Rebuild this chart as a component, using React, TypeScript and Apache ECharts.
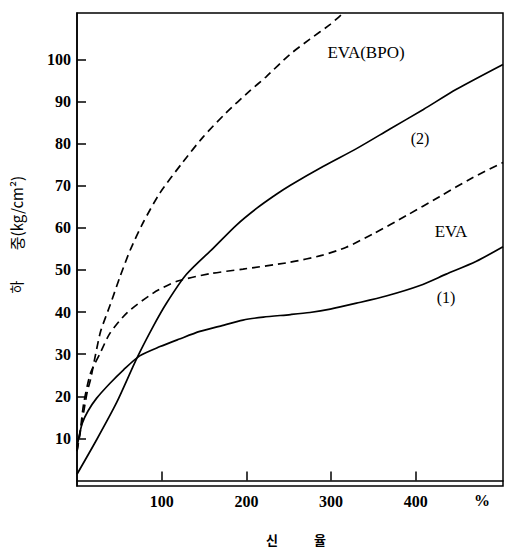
import React, { useEffect, useRef } from "react";
import * as echarts from "echarts";

// elongation (%) , load (kg/cm²)
const curve1: [number, number][] = [
  [0, 8], [2, 10], [6, 13.5], [13, 16.5], [23, 19.5], [39, 23.1], [55, 26.3], [74, 29.6],
  [98, 31.8], [121, 33.6], [145, 35.4], [168, 36.6], [196, 38.1], [220, 38.8], [252, 39.4],
  [275, 39.9], [299, 40.7], [330, 42.1], [365, 43.8], [405, 46.3], [436, 49.0], [471, 52], [503, 55.5],
];
const curve2: [number, number][] = [
  [0, 1.5], [23.5, 9.8], [47, 18.6], [70.6, 29.0], [90, 36.6], [106, 42.2], [129, 48.9],
  [161, 55.2], [188, 60.6], [212, 64.6], [235, 67.9], [252, 70.1], [291, 74.6], [330, 78.8],
  [369, 83.4], [409, 88.1], [448, 92.9], [503, 98.8],
];
const curveEVA: [number, number][] = [
  [0, 7], [4, 12], [8, 18.4], [16, 25.5], [27.5, 30.3], [39, 35], [59, 39.8], [90, 44.5],
  [118, 47.3], [157, 49.1], [196, 50.2], [251, 51.8], [290, 53.5], [318, 55.4], [350, 58.6],
  [389, 62.9], [428, 67.4], [467, 71.9], [503, 75.5],
];
const curveBPO: [number, number][] = [
  [0, 7], [6, 14], [12, 21], [16, 24], [22, 30], [28, 35.5], [39, 41.6], [51, 48.5], [63, 54.8],
  [78, 61.2], [98, 68.3], [125, 75.6], [149, 81.6], [176, 87.3], [204, 92.5], [223, 95.8],
  [251, 101.1], [275, 104.8], [299, 108.3], [320, 112],
];
const xTicks = [100, 200, 300, 400];
const yTicks = [10, 20, 30, 40, 50, 60, 70, 80, 90, 100];

const SERIF = "'Liberation Serif', 'DejaVu Serif', serif";
const KR = "'Noto Sans CJK KR', sans-serif";

export default function App() {
  const ref = useRef<HTMLDivElement>(null);
  useEffect(() => {
    const chart = echarts.init(ref.current!, undefined, { renderer: "svg" });
    const line = (data: [number, number][], dashed: boolean) => ({
      type: "line",
      data,
      showSymbol: false,
      smooth: 0.25,
      clip: true,
      lineStyle: { color: "#000", width: 1.7, type: dashed ? [8, 5] : "solid" },
    });
    const txt = (text: string, x: number, y: number, size = 17, extra: any = {}) => ({
      type: "text",
      x,
      y,
      style: {
        text,
        fill: "#000",
        font: `${size}px ${SERIF}`,
        textAlign: "center",
        textVerticalAlign: "middle",
        ...extra,
      },
    });
    chart.setOption({
      animation: false,
      backgroundColor: "#fff",
      grid: {
        left: 77, top: 13, right: 2, bottom: 65,
        show: true, borderColor: "#000", borderWidth: 1.5,
      },
      xAxis: {
        type: "value", min: 0, max: 503,
        axisLine: { lineStyle: { color: "#000", width: 1.5 } },
        axisTick: { show: true, inside: true, length: 9, lineStyle: { color: "#000", width: 1.5 }, customValues: xTicks },
        axisLabel: { customValues: xTicks, color: "#000", fontFamily: SERIF, fontSize: 16, fontWeight: "bold", margin: 7 },
        splitLine: { show: false },
      },
      yAxis: {
        type: "value", min: -1.3, max: 111,
        axisLine: { lineStyle: { color: "#000", width: 1.5 } },
        axisTick: { show: true, inside: true, length: 9, lineStyle: { color: "#000", width: 1.5 }, customValues: yTicks },
        axisLabel: { customValues: yTicks, color: "#000", fontFamily: SERIF, fontSize: 16, fontWeight: "bold", margin: 6 },
        splitLine: { show: false },
      },
      series: [line(curve1, false), line(curve2, false), line(curveEVA, true), line(curveBPO, true)],
      graphic: [
        txt("EVA(BPO)", 366, 52, 17),
        txt("(2)", 420, 138, 16),
        txt("EVA", 451, 231, 17),
        txt("(1)", 446, 297, 16),
        txt("%", 482, 500, 16, { font: `bold 16px ${SERIF}` }),
        txt("신", 272, 539, 13, { font: `bold 13px ${KR}` }),
        txt("율", 320, 539, 13, { font: `bold 13px ${KR}` }),
        {
          type: "text", x: 16, y: 287, rotation: Math.PI / 2,
          style: { text: "하", fill: "#000", font: `14px ${KR}`, textAlign: "center", textVerticalAlign: "middle" },
        },
        {
          type: "text", x: 16, y: 213, rotation: Math.PI / 2,
          style: { text: "중(kg/cm²)", fill: "#000", font: `15px ${KR}`, textAlign: "center", textVerticalAlign: "middle" },
        },
      ],
    });
    return () => chart.dispose();
  }, []);
  return <div ref={ref} style={{ position: "fixed", left: 0, top: 0, width: 505, height: 551 }} />;
}
